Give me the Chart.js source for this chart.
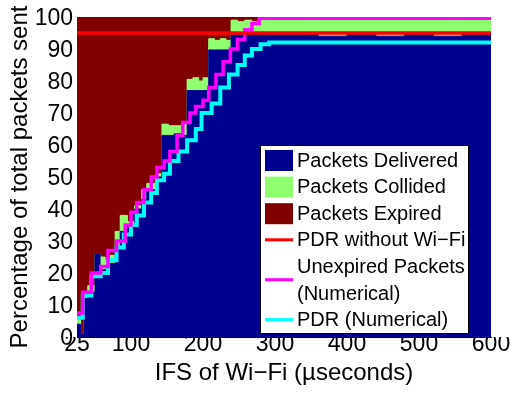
<!DOCTYPE html>
<html lang="en">
<head>
    <meta charset="UTF-8">
    <title>IFS of Wi-Fi</title>
    <script src="https://cdn.jsdelivr.net/npm/chart.js"></script>
    <style>
        html, body {
            margin: 0;
            padding: 0;
            background: #FFFFFF;
        }
        #chartBox {
            width: 511px;
            height: 394px;
        }
    </style>
</head>
<body>
    <div id="chartBox">
        <canvas id="ifsChart" width="511" height="394"></canvas>
    </div>

    <script>
        // simulation (stacked areas), values in % of packets sent
        const simX      = [25, 30, 35, 40, 50, 57, 64, 71, 78, 85, 95, 105, 115, 122, 135, 143, 152, 160, 170, 178, 186, 194, 200, 208, 216, 224, 232, 239, 248, 258, 268, 279, 320, 360, 400, 440, 480, 520, 560, 600];
        const delivered = [4, 1, 12, 14, 26, 21, 21, 23, 28, 33, 35, 40, 43, 46, 50, 63, 63, 63.5, 63, 77, 77, 77, 77, 89.7, 89.7, 89.7, 89.7, 95, 95, 95, 95, 94.5, 94.5, 94, 94.5, 94, 94.5, 94, 94.5, 94.5];
        const collided  = [1.5, 0, 1, 2, 0, 4, 3, 2.5, 5, 5, 1, 1, 3, 2, 1, 3.5, 3, 2.5, 3.5, 3.5, 4, 3, 4, 3.5, 3, 3.5, 3, 4, 3.5, 4, 3.5, 4.8, 4.8, 5.2, 4.8, 5.2, 4.8, 5.2, 4.8, 4.8];
        const expired   = [94.5, 99, 87, 84, 74, 75, 76, 74.5, 67, 62, 64, 59, 54, 52, 49, 33.5, 34, 34, 33.5, 19.5, 19, 20, 19, 6.8, 7.3, 6.8, 7.3, 1, 1.5, 1, 1.5, 0.7, 0.7, 0.8, 0.7, 0.8, 0.7, 0.8, 0.7, 0.7];

        // numerical curves
        const unexpX   = [25, 33, 45, 58, 68, 80, 92, 100, 108, 118, 128, 136, 146, 154, 164, 172, 182, 190, 200, 208, 218, 228, 238, 248, 258, 268, 278, 600];
        const unexpNum = [7.5, 14, 20, 22, 27, 30, 35, 39, 42, 46, 50, 53, 55, 58, 63, 67, 70, 72, 74, 78, 82, 86, 90, 93, 96, 98, 99.6, 99.6];
        const pdrX     = [25, 33, 45, 58, 68, 80, 90, 100, 108, 118, 128, 136, 146, 154, 166, 178, 190, 198, 212, 224, 236, 248, 258, 268, 280, 292, 600];
        const pdrNum   = [6, 13, 19, 20, 24, 28, 32, 35, 38, 42, 45, 49, 51, 55, 58, 61.5, 65, 70, 73, 78, 82, 85, 88, 90, 91.5, 92, 92];

        // PDR without Wi-Fi
        const noWifiX   = [25, 600];
        const noWifiPdr = [95, 95];

        // axis ticks
        const xTicks = [25, 100, 200, 300, 400, 500, 600];
        const yTicks = [0, 10, 20, 30, 40, 50, 60, 70, 80, 90, 100];

        const legendItems = [
            { type: 'box',  color: '#00008F', text: ['Packets Delivered'] },
            { type: 'box',  color: '#8FFF70', text: ['Packets Collided'] },
            { type: 'box',  color: '#800000', text: ['Packets Expired'] },
            { type: 'line', color: '#FF0000', text: ['PDR without Wi\u2212Fi'] },
            { type: 'line', color: '#FF00FF', text: ['Unexpired Packets', '(Numerical)'] },
            { type: 'line', color: '#00FFFF', text: ['PDR (Numerical)'] }
        ];

        const FONT = '"Liberation Sans", Arial, Helvetica, sans-serif';

        const toPoints = (xs, ys) => xs.map((x, i) => ({ x: x, y: ys[i] }));

        const areaSet = (label, xs, ys, color, fill) => ({
            label: label,
            data: toPoints(xs, ys),
            stack: 'sim',
            stepped: true,
            fill: fill,
            backgroundColor: color,
            borderColor: color,
            borderWidth: 1,
            pointRadius: 0
        });

        const lineSet = (label, xs, ys, color, width, stack) => ({
            label: label,
            data: toPoints(xs, ys),
            stack: stack,
            stepped: true,
            fill: false,
            borderColor: color,
            borderWidth: width,
            pointRadius: 0
        });

        // legend in the lower right corner of the plot
        const boxLegend = {
            id: 'boxLegend',
            afterDatasetsDraw(chart) {
                const ctx = chart.ctx;
                const left = 260, top = 145, w = 208, h = 188;
                ctx.save();
                ctx.fillStyle = '#FFFFFF';
                ctx.fillRect(left, top, w, h);
                ctx.strokeStyle = '#000000';
                ctx.lineWidth = 1;
                ctx.strokeRect(left + 0.5, top + 0.5, w, h);

                ctx.font = '20px ' + FONT;
                ctx.textBaseline = 'middle';
                ctx.textAlign = 'left';
                let y = top + 16;
                const rowH = 26.6;
                legendItems.forEach(item => {
                    const lines = item.text.length;
                    const midY = y + (lines - 1) * rowH / 2;
                    if (item.type === 'box') {
                        ctx.fillStyle = item.color;
                        ctx.fillRect(left + 5, y - 11, 28, 21);
                    } else {
                        ctx.strokeStyle = item.color;
                        ctx.lineWidth = 3;
                        ctx.beginPath();
                        ctx.moveTo(left + 5, midY - 1);
                        ctx.lineTo(left + 33, midY - 1);
                        ctx.stroke();
                    }
                    ctx.fillStyle = '#000000';
                    item.text.forEach((t, i) => {
                        ctx.fillText(t, left + 37, y + i * rowH);
                    });
                    y += lines * rowH;
                });
                ctx.restore();
            }
        };

        document.addEventListener('DOMContentLoaded', () => {
            new Chart(document.getElementById('ifsChart'), {
                type: 'line',
                data: {
                    datasets: [
                        lineSet('PDR without Wi-Fi', noWifiX, noWifiPdr, '#FF0000', 3.5, 'ref'),
                        lineSet('Unexpired Packets (Numerical)', unexpX, unexpNum, '#FF00FF', 3.5, 'unexp'),
                        lineSet('PDR (Numerical)', pdrX, pdrNum, '#00FFFF', 4, 'pdr'),
                        areaSet('Packets Delivered', simX, delivered, '#00008F', 'origin'),
                        areaSet('Packets Collided', simX, collided, '#8FFF70', '-1'),
                        areaSet('Packets Expired', simX, expired, '#800000', '-1')
                    ]
                },
                options: {
                    responsive: false,
                    devicePixelRatio: 1,
                    animation: false,
                    layout: {
                        padding: { top: 17, right: 20, left: 0, bottom: 0 }
                    },
                    plugins: {
                        legend: { display: false },
                        tooltip: { enabled: false }
                    },
                    scales: {
                        x: {
                            type: 'linear',
                            min: 25,
                            max: 600,
                            z: 1,
                            grid: { display: false, drawTicks: false },
                            border: { display: true, color: '#000000', width: 1 },
                            afterBuildTicks: (scale) => {
                                scale.ticks = xTicks.map(v => ({ value: v }));
                            },
                            afterFit: (scale) => {
                                scale.height = 57;
                                scale.paddingLeft = 0;
                                scale.paddingRight = 0;
                            },
                            ticks: {
                                color: '#000000',
                                padding: -4,
                                maxRotation: 0,
                                autoSkip: false,
                                font: { family: FONT, size: 23, lineHeight: 1 }
                            },
                            title: {
                                display: true,
                                text: 'IFS of Wi\u2212Fi (\u00B5seconds)',
                                color: '#000000',
                                padding: { top: 0, bottom: 9 },
                                font: { family: FONT, size: 24, lineHeight: 1 }
                            }
                        },
                        y: {
                            stacked: true,
                            min: 0,
                            max: 100,
                            z: 1,
                            grid: { display: false, drawTicks: false },
                            border: { display: true, color: '#000000', width: 1 },
                            afterBuildTicks: (scale) => {
                                scale.ticks = yTicks.map(v => ({ value: v }));
                            },
                            afterFit: (scale) => {
                                scale.width = 77;
                            },
                            ticks: {
                                color: '#000000',
                                padding: 4,
                                labelOffset: 2,
                                font: { family: FONT, size: 23, lineHeight: 1 }
                            },
                            title: {
                                display: true,
                                text: 'Percentage of total packets sent',
                                color: '#000000',
                                padding: { top: 8, bottom: 0 },
                                font: { family: FONT, size: 24, lineHeight: 1 }
                            }
                        }
                    }
                },
                plugins: [boxLegend]
            });
        });
    </script>
</body>
</html>
